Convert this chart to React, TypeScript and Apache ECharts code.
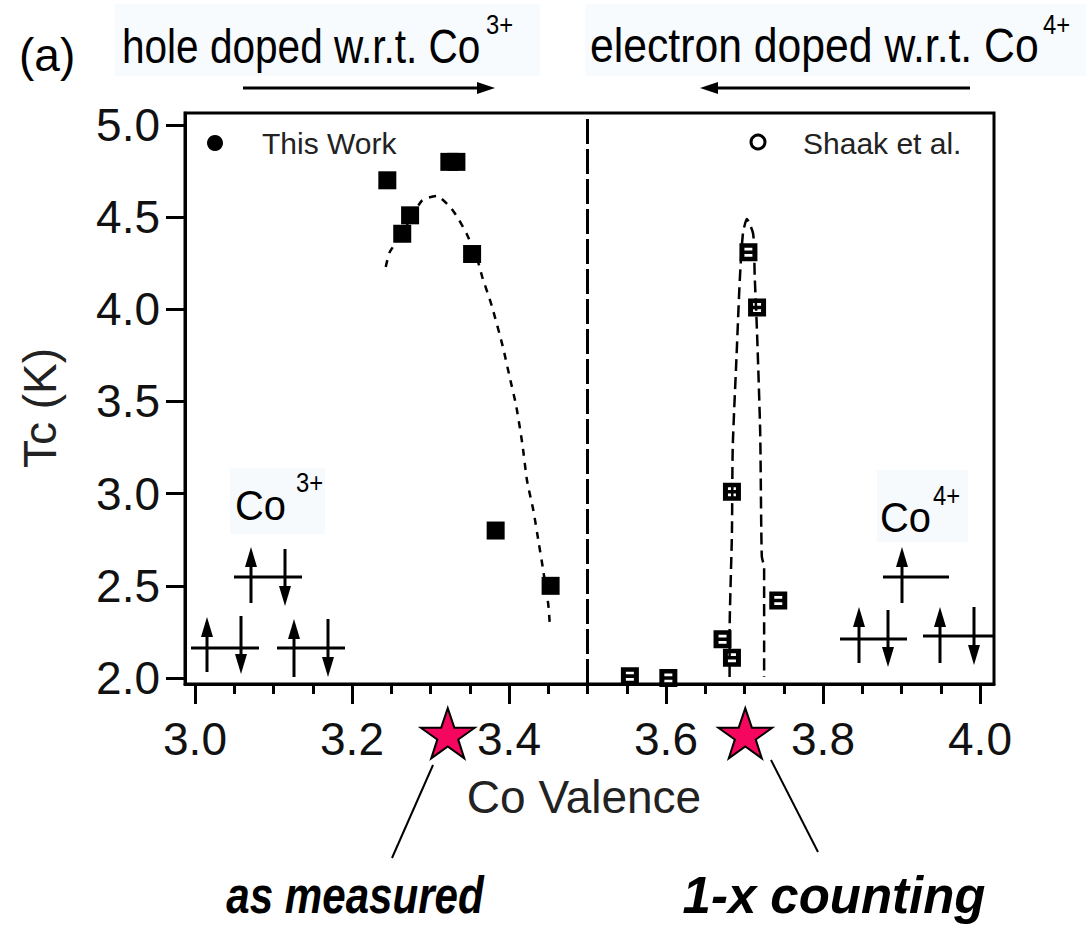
import React, { useEffect, useRef } from "react";
import * as echarts from "echarts";

// ---- data ----
const thisWorkX = [3.245, 3.264, 3.274, 3.324, 3.333, 3.353, 3.383, 3.453];
const thisWorkY = [4.7, 4.41, 4.51, 4.8, 4.8, 4.3, 2.8, 2.5];

const shaakX = [3.554, 3.603, 3.672, 3.684, 3.684, 3.705, 3.716, 3.743];
const shaakY = [2.01, 2.0, 2.21, 2.11, 3.01, 4.31, 4.01, 2.42];

const fitThisX = [3.243, 3.248, 3.264, 3.289, 3.308, 3.325, 3.335, 3.346, 3.359, 3.366, 3.378, 3.392, 3.401, 3.409, 3.417, 3.423, 3.431, 3.438, 3.443, 3.45, 3.452];
const fitThisY = [4.23, 4.31, 4.41, 4.59, 4.615, 4.555, 4.495, 4.41, 4.28, 4.175, 4.02, 3.8, 3.63, 3.48, 3.27, 3.07, 2.91, 2.73, 2.6, 2.4, 2.29];

const fitShaakX = [3.681, 3.681, 3.684, 3.685, 3.69, 3.694, 3.698, 3.703, 3.711, 3.713, 3.716, 3.72, 3.722, 3.725, 3.725];
const fitShaakY = [2.005, 2.24, 2.79, 3.25, 3.76, 4.16, 4.41, 4.49, 4.41, 4.18, 3.87, 3.33, 2.66, 2.6, 2.005];

const starValence = [3.322, 3.701];
const starLevel = 1.70;

const boundaryValence = 3.5;

const xTicks = [3.0, 3.2, 3.4, 3.6, 3.8, 4.0];
const xMinorTicks = [3.05, 3.1, 3.15, 3.25, 3.3, 3.35, 3.45, 3.5, 3.55, 3.65, 3.7, 3.75, 3.85, 3.9, 3.95];
const yTicks = [2.0, 2.5, 3.0, 3.5, 4.0, 4.5, 5.0];

const X_MIN = 2.98726;
const X_MAX = 4.01783;
const Y_MIN = 1.9674;
const Y_MAX = 5.0651;

const FONT = "'Liberation Sans', Arial, Helvetica, sans-serif";

const STAR = "path://M50,0 L61.8,35.1 L98.1,35.1 L68.6,56.7 L79.4,90.5 L50,69 L20.6,90.5 L31.4,56.7 L1.9,35.1 L38.2,35.1 Z";
const OPEN_SQ = "path://M0,0H18V18H0Z M5,4.5V7.2H13V4.5Z M5,10.8V13.5H13V10.8Z";

function vArrow(x: number, yTail: number, yTip: number) {
  const dir = yTip < yTail ? -1 : 1;
  const headLen = 20;
  const hw = 6;
  const yBase = yTip - dir * headLen;
  return [
    { type: "line", shape: { x1: x, y1: yTail, x2: x, y2: yBase }, style: { stroke: "#000", lineWidth: 3 } },
    { type: "polygon", shape: { points: [[x - hw, yBase], [x + hw, yBase], [x, yTip]] }, style: { fill: "#000" } },
  ];
}

function hArrow(xTail: number, y: number, xTip: number) {
  const dir = xTip < xTail ? -1 : 1;
  const headLen = 18;
  const hw = 6;
  const xBase = xTip - dir * headLen;
  return [
    { type: "line", shape: { x1: xTail, y1: y, x2: xBase, y2: y }, style: { stroke: "#000", lineWidth: 3 } },
    { type: "polygon", shape: { points: [[xBase, y - hw], [xBase, y + hw], [xTip, y]] }, style: { fill: "#000" } },
  ];
}

function level(x1: number, x2: number, y: number) {
  return { type: "line", shape: { x1, y1: y, x2, y2: y }, style: { stroke: "#000", lineWidth: 3 } };
}

function txt(text: string, x: number, y: number, size: number, opts: any = {}) {
  const align = opts.align || "left";
  return {
    type: "text",
    x,
    y,
    rotation: opts.rotation || 0,
    scaleX: opts.scaleX || 1,
    style: {
      text,
      fill: opts.color || "#000",
      font: `${opts.style || "normal"} ${opts.weight || "normal"} ${size}px ${FONT}`,
      textAlign: align,
      align,
      textVerticalAlign: "middle",
      verticalAlign: "middle",
    },
    z: 10,
  };
}

export default function App() {
  const ref = useRef<HTMLDivElement>(null);

  useEffect(() => {
    if (!ref.current) return;
    const chart = echarts.init(ref.current, undefined, { renderer: "svg" });

    const graphics: any[] = [
      // pale background boxes
      { type: "rect", shape: { x: 115, y: 4, width: 425, height: 72 }, style: { fill: "#f7fbfe" }, z: 1 },
      { type: "rect", shape: { x: 585, y: 4, width: 501, height: 72 }, style: { fill: "#f7fbfe" }, z: 1 },
      { type: "rect", shape: { x: 230, y: 468, width: 95, height: 66 }, style: { fill: "#f6fafd" }, z: 1 },
      { type: "rect", shape: { x: 877, y: 470, width: 91, height: 72 }, style: { fill: "#f6fafd" }, z: 1 },
      // header
      txt("(a)", 19, 55, 46),
      txt("hole doped w.r.t. Co", 122, 46, 48, { scaleX: 0.845 }),
      txt("3+", 486, 24, 28, { scaleX: 0.85 }),
      txt("electron doped w.r.t. Co", 590, 46, 48, { scaleX: 0.89 }),
      txt("4+", 1043, 24, 28, { scaleX: 0.85 }),
      ...hArrow(243, 88, 495),
      ...hArrow(970, 88, 700),
      // legend
      { type: "circle", shape: { cx: 215, cy: 143, r: 8 }, style: { fill: "#000" }, z: 10 },
      txt("This Work", 262, 143, 30, { color: "#222" }),
      { type: "circle", shape: { cx: 758, cy: 142, r: 7 }, style: { fill: "#fff", stroke: "#000", lineWidth: 3 }, z: 10 },
      txt("Shaak et al.", 803, 143, 30, { color: "#222" }),
      // axis titles
      txt("Tc (K)", 40, 408, 46, { rotation: Math.PI / 2, align: "center", color: "#222" }),
      txt("Co Valence", 584, 797, 46, { align: "center", color: "#222" }),
      // Co3+ spin diagram
      txt("Co", 235, 506, 42, { scaleX: 0.95 }),
      txt("3+", 296, 482, 28, { scaleX: 0.85 }),
      level(234, 302, 577),
      level(191, 259, 648),
      level(277, 345, 648),
      ...vArrow(251, 603, 547),
      ...vArrow(207, 672, 617),
      ...vArrow(294, 677, 619),
      ...vArrow(285, 549, 606),
      ...vArrow(241, 616, 674),
      ...vArrow(328, 619, 677),
      // Co4+ spin diagram
      txt("Co", 880, 518, 42, { scaleX: 0.95 }),
      txt("4+", 933, 495, 28, { scaleX: 0.85 }),
      level(883, 949, 577),
      level(840, 907, 639),
      level(923, 994, 636),
      ...vArrow(902, 603, 547),
      ...vArrow(859, 663, 607),
      ...vArrow(940, 663, 607),
      ...vArrow(888, 610, 667),
      ...vArrow(974, 607, 665),
      // pointers from stars
      { type: "line", shape: { x1: 433, y1: 765, x2: 392, y2: 858 }, style: { stroke: "#000", lineWidth: 2 } },
      { type: "line", shape: { x1: 771, y1: 760, x2: 818, y2: 852 }, style: { stroke: "#000", lineWidth: 2 } },
      txt("as measured", 355, 895, 52, { weight: "bold", style: "italic", align: "center", scaleX: 0.81 }),
      txt("1-x counting", 834, 895, 52, { weight: "bold", style: "italic", align: "center", scaleX: 0.98 }),
    ];

    const labelStyle = { fontSize: 46, fontFamily: FONT, color: "#111" };

    chart.setOption({
      animation: false,
      grid: { left: 185, top: 113, width: 809, height: 571, show: true, borderColor: "#000", borderWidth: 3, backgroundColor: "transparent" },
      xAxis: [
        {
          type: "value",
          min: X_MIN,
          max: X_MAX,
          position: "bottom",
          axisLine: { show: true, lineStyle: { color: "#000", width: 3 } },
          axisTick: { show: true, customValues: xTicks, length: 20, lineStyle: { color: "#000", width: 3 } },
          axisLabel: { show: true, customValues: xTicks, margin: 32, formatter: (v: number) => v.toFixed(1), ...labelStyle },
          splitLine: { show: false },
        },
        {
          type: "value",
          min: X_MIN,
          max: X_MAX,
          position: "bottom",
          axisLine: { show: false },
          axisTick: { show: true, customValues: xMinorTicks, length: 10, lineStyle: { color: "#000", width: 3 } },
          axisLabel: { show: false },
          splitLine: { show: false },
        },
      ],
      yAxis: {
        type: "value",
        min: Y_MIN,
        max: Y_MAX,
        axisLine: { show: true, lineStyle: { color: "#000", width: 3 } },
        axisTick: { show: true, customValues: yTicks, length: 19, lineStyle: { color: "#000", width: 3 } },
        axisLabel: { show: true, customValues: yTicks, margin: 25, formatter: (v: number) => v.toFixed(1), ...labelStyle },
        splitLine: { show: false },
      },
      series: [
        {
          name: "boundary",
          type: "line",
          data: [],
          markLine: {
            silent: true,
            symbol: "none",
            label: { show: false },
            lineStyle: { color: "#000", width: 3, type: [25, 5] },
            data: [{ xAxis: boundaryValence }],
          },
        },
        {
          name: "This Work fit",
          type: "line",
          data: fitThisX.map((x, i) => [x, fitThisY[i]]),
          smooth: 0.2,
          showSymbol: false,
          lineStyle: { color: "#000", width: 2.5, type: [7, 7] },
          z: 3,
        },
        {
          name: "Shaak fit",
          type: "line",
          data: fitShaakX.map((x, i) => [x, fitShaakY[i]]),
          smooth: 0.2,
          showSymbol: false,
          lineStyle: { color: "#000", width: 2.5, type: [12, 6] },
          z: 3,
        },
        {
          name: "This Work",
          type: "scatter",
          data: thisWorkX.map((x, i) => [x, thisWorkY[i]]),
          symbol: "rect",
          symbolSize: 18,
          itemStyle: { color: "#000", opacity: 1 },
          z: 5,
        },
        {
          name: "Shaak et al.",
          type: "scatter",
          data: shaakX.map((x, i) => [x, shaakY[i]]),
          symbol: OPEN_SQ,
          symbolSize: 18,
          itemStyle: { color: "#000", opacity: 1 },
          z: 5,
        },
        {
          name: "valence stars",
          type: "scatter",
          data: starValence.map((x) => [x, starLevel]),
          symbol: STAR,
          symbolSize: [54, 50],
          clip: false,
          itemStyle: { color: "#f5075f", borderColor: "#000", borderWidth: 2, opacity: 1 },
          z: 6,
        },
      ],
      graphic: graphics,
    });

    return () => chart.dispose();
  }, []);

  return <div ref={ref} style={{ position: "absolute", left: 0, top: 0, width: 1086, height: 934 }} />;
}
